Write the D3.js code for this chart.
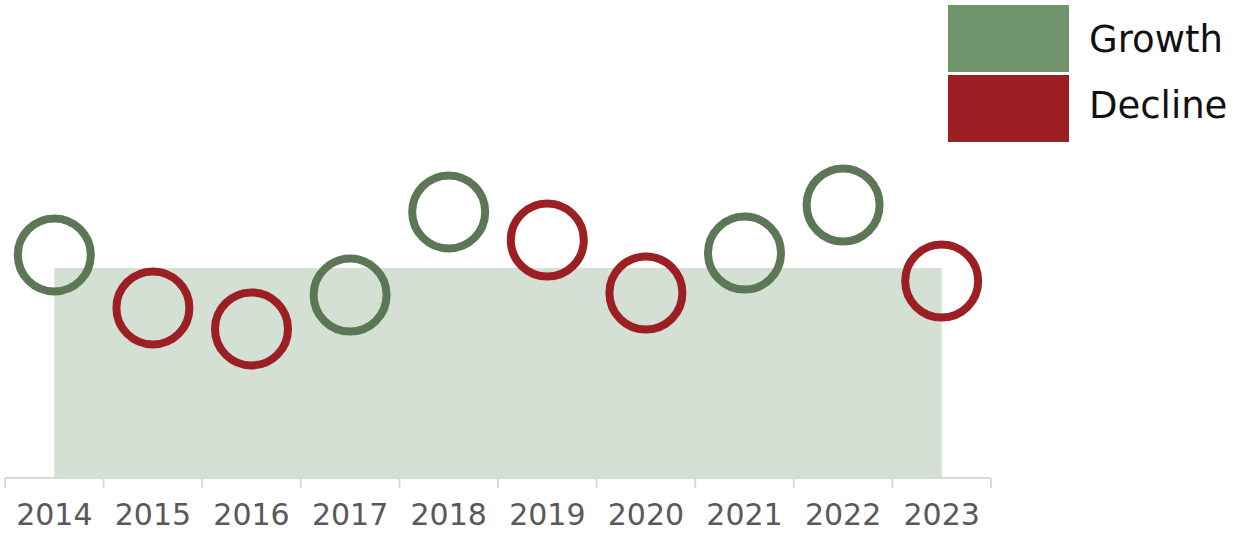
<!DOCTYPE html>
<html>
<head>
<meta charset="utf-8">
<script src="https://cdn.jsdelivr.net/npm/d3@7"></script>
<style>
  body { margin: 0; background: #fff; }
  svg { display: block; font-family: "DejaVu Sans", sans-serif; }
</style>
</head>
<body>
<svg width="1238" height="533"></svg>
<script>
// data
var years = ["2014","2015","2016","2017","2018","2019","2020","2021","2022","2023"]
var values = [106.2, 81.0, 71.0, 87.1, 126.7, 113.3, 88.1, 107.1, 130.0, 93.8]
var trend = ["Growth","Decline","Decline","Growth","Growth","Decline","Decline","Growth","Growth","Decline"]
var average = 100
var legendItems = ["Growth","Decline"]

var circleColors = {Growth:"#5b7756", Decline:"#9c1f23"}
var legendColors = {Growth:"#6f936b", Decline:"#9c1f23"}

var svg = d3.select("svg")

var xScale = d3.scaleBand()
                .domain(years)
                .range([5,991])
                .paddingInner(0)
                .paddingOuter(0)

var yScale = d3.scaleLinear()
                .domain([0,100])
                .range([478,268])

var cx = function(year){ return xScale(year) + xScale.bandwidth()/2 }

// average band
var areaGenerator = d3.area()
    .x(function(d){ return cx(d) })
    .y0(yScale(0))
    .y1(yScale(average))

svg.append("path")
    .datum(years)
    .attr("d",areaGenerator)
    .attr("fill","#d5e0d5")

// x axis
var xAxis = d3.axisBottom(xScale)
                .tickSize(0)
                .tickPadding(26)

var axisG = svg.append("g")
    .attr("transform","translate(0,478)")
    .call(xAxis)

axisG.select(".domain").remove()
axisG.selectAll("text")
    .attr("fill","#595959")
    .style("font-size","30px")
    .style("font-family","DejaVu Sans, sans-serif")

// baseline and boundary ticks
var bounds = years.map(function(y){ return xScale(y) }).concat([xScale.range()[1]])

axisG.append("line")
    .attr("x1",xScale.range()[0])
    .attr("x2",xScale.range()[1])
    .attr("stroke","#d9d9d9")
    .attr("stroke-width",2)

axisG.selectAll(".bound")
    .data(bounds)
    .enter()
    .append("line")
    .attr("class","bound")
    .attr("x1",function(d){ return d })
    .attr("x2",function(d){ return d })
    .attr("y1",0)
    .attr("y2",10)
    .attr("stroke","#d9d9d9")
    .attr("stroke-width",2)

// circles
svg.append("g")
    .selectAll("circle")
    .data(years)
    .enter()
    .append("circle")
    .attr("cx",function(d){ return cx(d) })
    .attr("cy",function(d,i){ return yScale(values[i]) })
    .attr("r",36.5)
    .attr("fill","none")
    .attr("stroke",function(d,i){ return circleColors[trend[i]] })
    .attr("stroke-width",8)

// legend
var legend = svg.append("g")

legend.selectAll("rect")
    .data(legendItems)
    .enter()
    .append("rect")
    .attr("x",948)
    .attr("y",function(d,i){ return 5+i*70 })
    .attr("width",121)
    .attr("height",67)
    .attr("fill",function(d){ return legendColors[d] })

legend.selectAll("text")
    .data(legendItems)
    .enter()
    .append("text")
    .attr("x",1089)
    .attr("y",function(d,i){ return 52+i*66 })
    .attr("fill","#111")
    .style("font-size","37px")
    .text(function(d){ return d })
</script>
</body>
</html>
